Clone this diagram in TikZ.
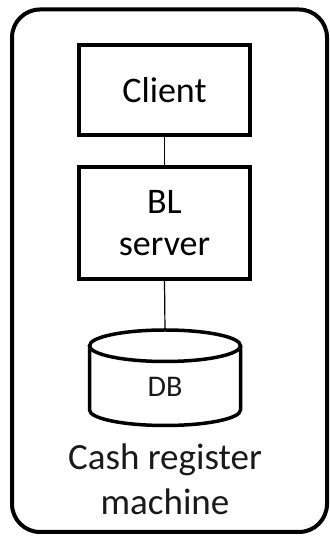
\documentclass[tikz,border=0pt]{standalone}
\usepackage{fontspec}
\setmainfont{Carlito}
\begin{document}
\begin{tikzpicture}[x=1pt,y=1pt,
  boxnode/.style={draw=black, line width=3.5pt, minimum width=171pt, inner sep=0pt, align=center},
  link/.style={draw=black, line width=1.2pt},
  txt/.style={text=black!90, align=center, inner sep=0pt}]
\useasboundingbox (0,0) rectangle (329,537);
% outer machine frame
\draw[line width=4pt, rounded corners=28pt] (12,5) rectangle (327,527.5);
% client
\node[boxnode, minimum height=90pt, font=\fontsize{36}{42}\selectfont] (client) at (164.5,447) {Client};
% BL server
\node[boxnode, minimum height=112pt, font=\fontsize{36}{42}\selectfont] (bl) at (164.5,314) {BL\\server};
% database cylinder
\draw[line width=3.5pt] (165,191.25) ellipse (75.5 and 15.75);
\draw[line width=3.5pt] (89.5,191.25) -- (89.5,127) arc[start angle=180, end angle=360, x radius=75.5, y radius=15.5] -- (240.5,191.25);
\coordinate (dbtop) at (165,207);
\node[txt, font=\fontsize{30}{36}\selectfont] (db) at (165,150.5) {DB};
% links
\draw[link] (client.south) -- (bl.north);
\draw[link] (bl.south) -- (dbtop);
% caption
\node[txt, font=\fontsize{37}{45}\selectfont] (cap) at (165,58) {Cash register\\machine};
\end{tikzpicture}
\end{document}
